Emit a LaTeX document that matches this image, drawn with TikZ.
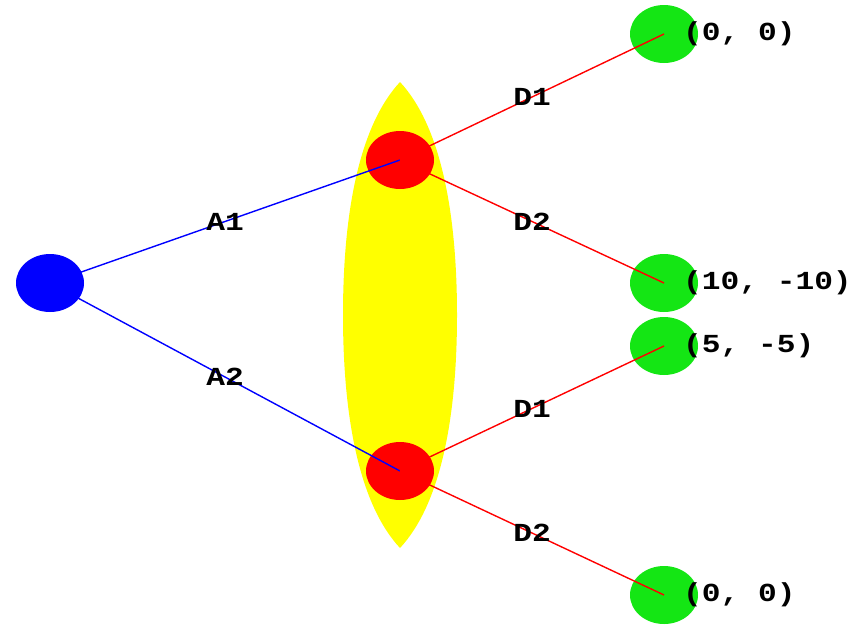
\documentclass[tikz,border=0pt]{standalone}
\usepackage{fontspec}
\usetikzlibrary{shapes.geometric}
\newfontfamily\labelfont[FakeStretch=1.2]{Liberation Mono}
\definecolor{leafgreen}{RGB}{20,230,20}
\definecolor{setyellow}{RGB}{255,255,0}
\begin{document}
\begin{tikzpicture}[x=1pt,y=-1pt,
  dot/.style={ellipse,minimum width=68pt,minimum height=58pt,inner sep=0pt},
  rootdot/.style={dot,fill=blue},
  choicedot/.style={dot,fill=red},
  leafdot/.style={dot,fill=leafgreen},
  rootedge/.style={draw=blue,line width=1.4pt},
  choiceedge/.style={draw=red,line width=1.4pt},
  tag/.style={font=\labelfont\bfseries\fontsize{26}{26}\selectfont,inner sep=0pt,text=black},
  payoff/.style={tag,anchor=west}]
\useasboundingbox (0,0) rectangle (856,624);
% information set of the second mover
\fill[setyellow] (400,82) .. controls (440,125) and (457,210) .. (457,315)
  .. controls (457,420) and (440,505) .. (400,548)
  .. controls (360,505) and (343,420) .. (343,315)
  .. controls (343,210) and (360,125) .. (400,82) -- cycle;
% nodes
\node[rootdot] (r) at (50,283) {};
\node[choicedot] (u) at (400,160) {};
\node[choicedot] (l) at (400,471) {};
\node[leafdot] (g1) at (664,34) {};
\node[leafdot] (g2) at (664,283) {};
\node[leafdot] (g3) at (664,346) {};
\node[leafdot] (g4) at (664,595) {};
% edges, centre to centre
\draw[rootedge] (r.center) -- (u.center) node[midway,tag] {A1};
\draw[rootedge] (r.center) -- (l.center) node[midway,tag] {A2};
\draw[choiceedge] (u.center) -- (g1.center) node[midway,tag] {D1};
\draw[choiceedge] (u.center) -- (g2.center) node[midway,tag] {D2};
\draw[choiceedge] (l.center) -- (g3.center) node[midway,tag] {D1};
\draw[choiceedge] (l.center) -- (g4.center) node[midway,tag] {D2};
% payoffs
\node[payoff] (p1) at (683,34) {(0, 0)};
\node[payoff] (p2) at (683,283) {(10, -10)};
\node[payoff] (p3) at (683,346) {(5, -5)};
\node[payoff] (p4) at (683,595) {(0, 0)};
\end{tikzpicture}
\end{document}
